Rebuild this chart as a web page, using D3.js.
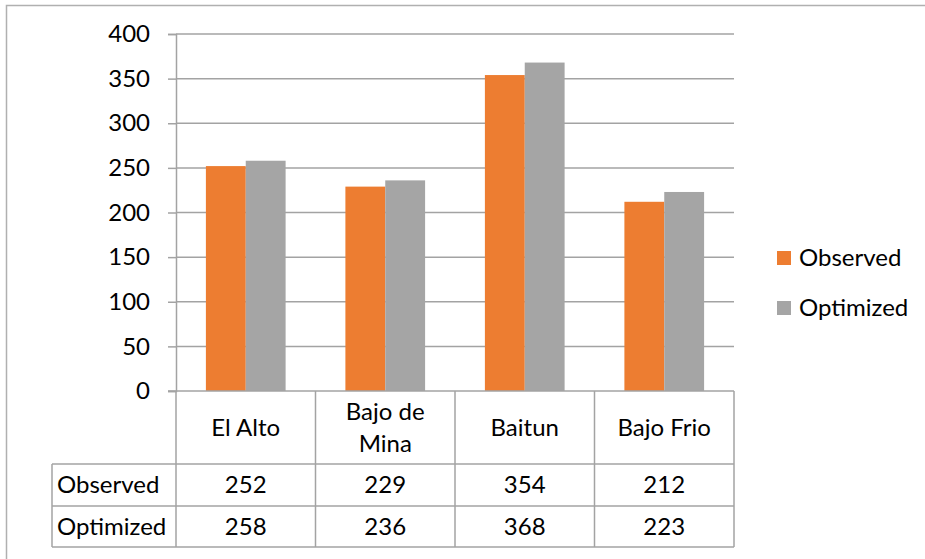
<!DOCTYPE html>
<html>
<head>
<meta charset="utf-8">
<script src="https://cdn.jsdelivr.net/npm/d3@7"></script>
<style>
  html, body { margin: 0; padding: 0; background: #fff; }
  svg { display: block; }
  text { font-family: Lato, "Open Sans", sans-serif; fill: #000; }
</style>
</head>
<body>
<svg id="chart" width="925" height="559"></svg>
<script>
// Site data
const categories = ["El Alto", "Bajo de\nMina", "Baitun", "Bajo Frio"];
const seriesNames = ["Observed", "Optimized"];
const observed = [252, 229, 354, 212];
const optimized = [258, 236, 368, 223];
const yTicks = [0, 50, 100, 150, 200, 250, 300, 350, 400];

const colors = { Observed: "#ED7D31", Optimized: "#A5A5A5" };
const seriesValues = { Observed: observed, Optimized: optimized };

const svg = d3.select("#chart");
const fontSize = 24;
const lineColor = "#a3a3a3";

// plot area
const plot = { left: 176, right: 734, top: 34, bottom: 391 };
const tableRows = { header: 464, obs: 506, opt: 547 };
const rowHeaderLeft = 52;

// outer chart border
svg.append("rect")
  .attr("x", 6.5).attr("y", 5.5)
  .attr("width", 1000).attr("height", 1000)
  .attr("fill", "none").attr("stroke", "#b0b0b0").attr("stroke-width", 1.5);

const x = d3.scaleBand()
  .domain(d3.range(categories.length))
  .range([plot.left, plot.right])
  .paddingInner(0).paddingOuter(0);

const y = d3.scaleLinear().domain([0, 400]).range([plot.bottom, plot.top]);

// two bars per category with a 150% gap between groups
const inner = d3.scaleBand()
  .domain(seriesNames)
  .range([0, x.bandwidth()])
  .paddingInner(0)
  .paddingOuter(0.75);

// horizontal gridlines
svg.append("g")
  .selectAll("line")
  .data(yTicks.filter(d => d > 0))
  .join("line")
  .attr("x1", plot.left).attr("x2", plot.right)
  .attr("y1", d => y(d)).attr("y2", d => y(d))
  .attr("stroke", lineColor).attr("stroke-width", 1.5);

// y axis
const yAxis = d3.axisLeft(y).tickValues(yTicks).tickSize(8).tickPadding(18);
const gy = svg.append("g").attr("transform", `translate(${plot.left},0)`).call(yAxis);
gy.select(".domain").attr("stroke", lineColor).attr("stroke-width", 1.5);
gy.selectAll(".tick line").attr("stroke", lineColor).attr("stroke-width", 1.5);
gy.selectAll(".tick text")
  .attr("font-size", fontSize)
  .attr("font-family", "Lato, 'Open Sans', sans-serif")
  .attr("fill", "#000");

// bars
const groups = svg.append("g")
  .selectAll("g")
  .data(categories.map((c, i) => i))
  .join("g")
  .attr("transform", i => `translate(${x(i)},0)`);

groups.selectAll("rect")
  .data(i => seriesNames.map(s => ({ s, v: seriesValues[s][i] })))
  .join("rect")
  .attr("x", d => inner(d.s))
  .attr("width", inner.bandwidth())
  .attr("y", d => y(d.v))
  .attr("height", d => y(0) - y(d.v))
  .attr("fill", d => colors[d.s]);

// x axis baseline (with left tick stub)
svg.append("line")
  .attr("x1", plot.left - 8).attr("x2", plot.right)
  .attr("y1", plot.bottom).attr("y2", plot.bottom)
  .attr("stroke", lineColor).attr("stroke-width", 1.5);

// data table grid
const tbl = svg.append("g").attr("stroke", lineColor).attr("stroke-width", 1.5);
x.domain().concat([categories.length]).forEach(i => {
  const xx = i < categories.length ? x(i) : plot.right;
  tbl.append("line").attr("x1", xx).attr("x2", xx)
    .attr("y1", plot.bottom).attr("y2", tableRows.opt);
});
[tableRows.header, tableRows.obs, tableRows.opt].forEach(yy => {
  tbl.append("line").attr("x1", rowHeaderLeft).attr("x2", plot.right)
    .attr("y1", yy).attr("y2", yy);
});
tbl.append("line").attr("x1", rowHeaderLeft).attr("x2", rowHeaderLeft)
  .attr("y1", tableRows.header).attr("y2", tableRows.opt);

// category labels
const headerMid = (plot.bottom + tableRows.header) / 2;
const lineH = 32;
categories.forEach((c, i) => {
  const lines = c.split("\n");
  const t = svg.append("text")
    .attr("x", x(i) + x.bandwidth() / 2)
    .attr("text-anchor", "middle")
    .attr("font-size", fontSize);
  lines.forEach((ln, k) => {
    t.append("tspan")
      .attr("x", x(i) + x.bandwidth() / 2)
      .attr("y", headerMid + (k - (lines.length - 1) / 2) * lineH)
      .attr("dy", "0.35em")
      .text(ln);
  });
});

// table rows
const rows = [
  { name: "Observed", top: tableRows.header, bottom: tableRows.obs },
  { name: "Optimized", top: tableRows.obs, bottom: tableRows.opt }
];
rows.forEach(r => {
  const mid = (r.top + r.bottom) / 2;
  svg.append("text")
    .attr("x", rowHeaderLeft + 5).attr("y", mid).attr("dy", "0.35em")
    .attr("font-size", fontSize)
    .text(r.name);
  seriesValues[r.name].forEach((v, i) => {
    svg.append("text")
      .attr("x", x(i) + x.bandwidth() / 2).attr("y", mid).attr("dy", "0.35em")
      .attr("text-anchor", "middle")
      .attr("font-size", fontSize)
      .text(v);
  });
});

// legend
const legend = svg.append("g").attr("transform", "translate(777,251)");
seriesNames.forEach((s, k) => {
  const g = legend.append("g").attr("transform", `translate(0,${k * 50})`);
  g.append("rect").attr("width", 14).attr("height", 14).attr("fill", colors[s]);
  g.append("text").attr("x", 22).attr("y", 7).attr("dy", "0.35em")
    .attr("font-size", fontSize).text(s);
});
</script>
</body>
</html>
